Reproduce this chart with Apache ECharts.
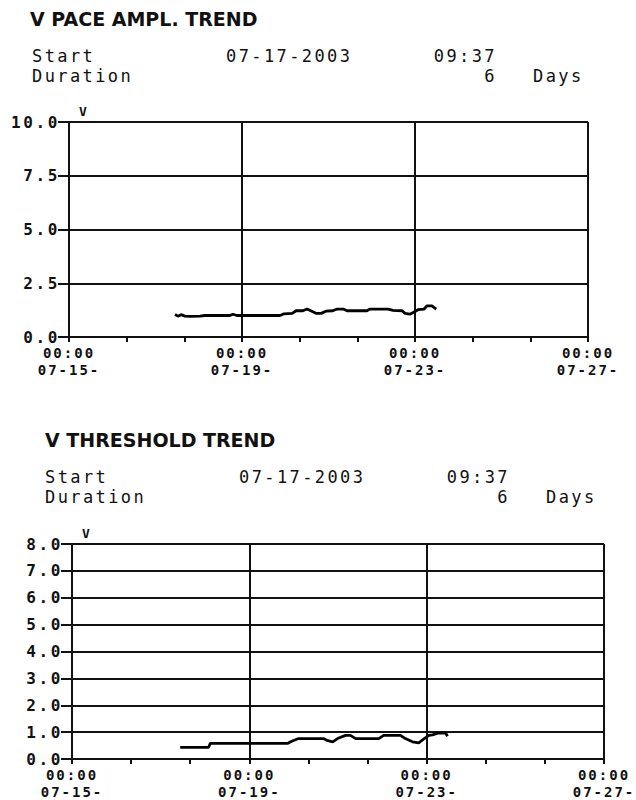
<!DOCTYPE html>
<html>
<head>
<meta charset="utf-8">
<script src="https://cdn.jsdelivr.net/npm/echarts@6/dist/echarts.min.js"></script>
<style>
html,body{margin:0;padding:0;background:#fff;}
#chart{width:636px;height:800px;}
/* widen the plotter-style lettering */
#chart text[style*="17px"][style*="Mono"]{letter-spacing:2.4px;}
#chart text[style*="16px"]{letter-spacing:2.6px;}
#chart text[style*="14px"]{letter-spacing:2px;}
</style>
</head>
<body>
<div id="chart"></div>
<script>
// ---- data (x = days since 07-15 00:00, y = volts) ----
const paceDays  = [2.45,2.52,2.59,2.68,2.80,3.03,3.14,3.72,3.79,3.88,4.88,4.97,5.16,5.25,5.41,5.50,5.59,5.71,5.83,5.94,6.10,6.20,6.34,6.43,6.89,6.96,7.38,7.49,7.70,7.77,7.88,7.97,8.07,8.21,8.28,8.39,8.49];
const paceVolts = [1.05,0.97,1.04,0.97,0.96,0.97,1.00,1.00,1.06,1.00,1.00,1.08,1.10,1.22,1.22,1.30,1.22,1.10,1.10,1.20,1.22,1.30,1.30,1.22,1.22,1.30,1.30,1.24,1.22,1.10,1.06,1.15,1.27,1.30,1.45,1.45,1.30];
const thrDays   = [2.44,3.08,3.12,4.86,4.93,5.11,5.67,5.77,5.88,5.99,6.17,6.28,6.40,6.92,7.03,7.41,7.52,7.68,7.82,7.93,8.05,8.13,8.25,8.43,8.47];
const thrVolts  = [0.43,0.43,0.58,0.58,0.64,0.76,0.76,0.68,0.64,0.76,0.88,0.88,0.76,0.76,0.88,0.88,0.76,0.64,0.60,0.74,0.88,0.90,0.96,0.96,0.85];
const xTickLabels = ["00:00\n07-15-","00:00\n07-19-","00:00\n07-23-","00:00\n07-27-"];
const paceYTicks = [0,2.5,5,7.5,10];
const thrYTicks  = [0,1,2,3,4,5,6,7,8];
const titles = ["V PACE AMPL. TREND","V THRESHOLD TREND"];
const headerLabels = ["Start","Duration"];
const startDate = "07-17-2003", startTime = "09:37", durationVal = "6", durationUnit = "Days";

const pair = (xs, ys) => xs.map((x,i)=>[x, ys[i]]);
const monoB = "DejaVu Sans Mono";
const ink = "#111";

function header(t, ox, oy, dx){
  const f = "17px 'DejaVu Sans Mono'";
  return [
    {type:'text', x:ox, y:oy, style:{text:t, font:"bold 19px 'DejaVu Sans'", fill:ink, textVerticalAlign:'middle'}},
    {type:'text', x:ox+2+dx, y:oy+37, style:{text:headerLabels[0], font:f, fill:ink, textVerticalAlign:'middle'}},
    {type:'text', x:ox+2+dx, y:oy+57, style:{text:headerLabels[1], font:f, fill:ink, textVerticalAlign:'middle'}},
    {type:'text', x:ox+196+dx, y:oy+37, style:{text:startDate, font:f, fill:ink, textVerticalAlign:'middle'}},
    {type:'text', x:ox+467+dx, y:oy+37, style:{text:startTime, font:f, fill:ink, textAlign:'right', textVerticalAlign:'middle'}},
    {type:'text', x:ox+467+dx, y:oy+57, style:{text:durationVal, font:f, fill:ink, textAlign:'right', textVerticalAlign:'middle'}},
    {type:'text', x:ox+503+dx, y:oy+57, style:{text:durationUnit, font:f, fill:ink, textVerticalAlign:'middle'}}
  ];
}

function xAxis(gi){
  return {
    type:'value', gridIndex:gi, min:0, max:12, interval:4,
    axisLine:{show:true, onZero:false, lineStyle:{color:ink, width:2}},
    axisTick:{show:true, length:5, lineStyle:{color:ink, width:2}},
    minorTick:{show:true, splitNumber:3, length:5, lineStyle:{color:ink, width:2}},
    splitLine:{show:true, lineStyle:{color:ink, width:2}},
    axisLabel:{margin:8, fontFamily:monoB, fontWeight:'bold', fontSize:14, lineHeight:16.4, color:ink,
      formatter:v=>xTickLabels[Math.round(v/4)]}
  };
}
function yAxis(gi, max, interval){
  return {
    type:'value', gridIndex:gi, min:0, max:max, interval:interval,
    name:'V', nameLocation:'end', nameGap:4,
    nameTextStyle:{fontFamily:monoB, fontWeight:'bold', fontSize:13, color:ink, align:'left', padding:[0,0,0,10]},
    axisLine:{show:true, lineStyle:{color:ink, width:2}},
    axisTick:{show:true, length:11, lineStyle:{color:ink, width:2}},
    splitLine:{show:true, lineStyle:{color:ink, width:2}},
    axisLabel:{margin:9, fontFamily:monoB, fontWeight:'bold', fontSize:16, color:ink,
      formatter:v=>v.toFixed(1)}
  };
}

const chart = echarts.init(document.getElementById('chart'), null, {renderer:'svg'});
chart.setOption({
  backgroundColor:'#fff',
  animation:false,
  graphic: header(titles[0], 30, 18.5, 0).concat(header(titles[1], 45, 439.5, -2)),
  grid:[
    {left:69, top:122, width:519, height:215},
    {left:72, top:544, width:532, height:215}
  ],
  xAxis:[xAxis(0), xAxis(1)],
  yAxis:[yAxis(0, paceYTicks[paceYTicks.length-1], paceYTicks[1]-paceYTicks[0]),
         yAxis(1, thrYTicks[thrYTicks.length-1], thrYTicks[1]-thrYTicks[0])],
  series:[
    {type:'line', xAxisIndex:0, yAxisIndex:0, data:pair(paceDays,paceVolts), showSymbol:false, symbol:'none',
     lineStyle:{color:'#000', width:2.8}},
    {type:'line', xAxisIndex:1, yAxisIndex:1, data:pair(thrDays,thrVolts), showSymbol:false, symbol:'none',
     lineStyle:{color:'#000', width:2.8}}
  ]
});
</script>
</body>
</html>
